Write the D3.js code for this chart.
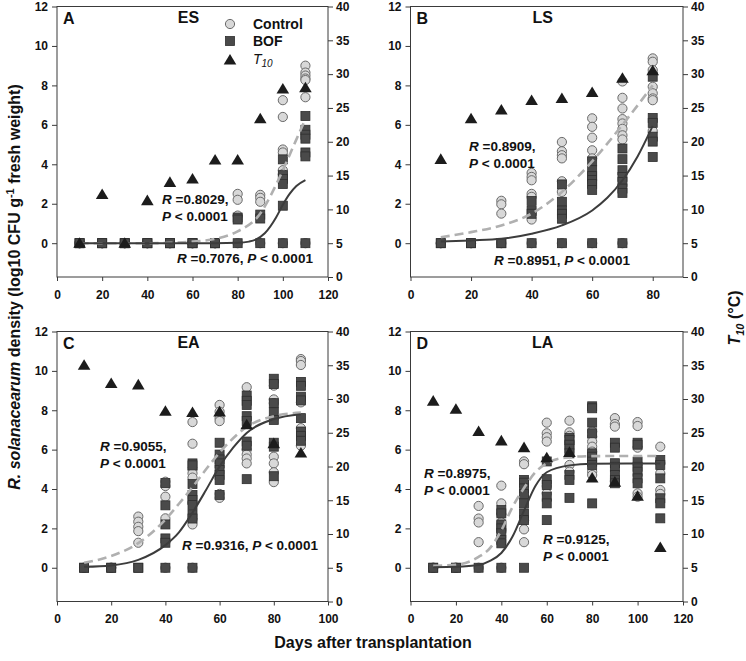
<!DOCTYPE html>
<html><head><meta charset="utf-8">
<script src="https://cdn.jsdelivr.net/npm/d3@7"></script>
<style>
body{margin:0;background:#fff}
svg{display:block}
text{font-family:"Liberation Sans",Arial,Helvetica,sans-serif}
</style>
</head><body>
<svg id="chart" width="746" height="661"></svg>
<script>
// ---------------- DATA ----------------
const panelKeys = ["A","B","C","D"];
const panelTitles = ["ES","LS","EA","LA"];
const legendLabels = ["Control","BOF","T10"];
const leftTicks = [0,2,4,6,8,10,12];
const rightTicks = [0,5,10,15,20,25,30,35,40];

// Panel A (ES)
const daysES = [10,20,30,40,50,60,70,80,90,100,110];
const controlES = [[0,0,0],[0,0,0],[0,0,0],[0,0,0],[0,0,0],[0,0,0],[0,0,0],
  [2.5,2.2,1.4,0],[2.45,2.3,2.1,0],[7.25,6.4,4.75,4.6,3.7,3.5,0],[9.0,8.65,8.5,8.35,8.27,7.4,0]];
const bofES = [[0,0,0],[0,0,0],[0,0,0],[0,0,0],[0,0,0],[0,0,0],[0,0,0],
  [1.3,1.2,0],[1.45,1.25,0],[4.25,3.45,3.25,3.0,1.9,0],[6.45,5.75,5.5,5.3,4.6,4.4,0]];
const t10ES = [5.0,12.2,5.0,11.3,14.0,14.5,17.3,17.3,23.4,27.8,28.0];
const fitControlDaysES = [10,20,30,40,50,60,70,80,90,95,100,105,110];
const fitControlES = [0,0,0,0,0.02,0.08,0.22,0.6,1.5,2.5,3.7,5.0,6.3];
const fitBofDaysES = [10,20,30,40,50,60,70,80,85,88,92,97,100,103,106,110];
const fitBofES = [0,0,0,0,0,0,0,0.02,0.08,0.18,0.5,1.3,1.95,2.5,2.9,3.2];
const xTicksES = [0,20,40,60,80,100,120];

// Panel B (LS)
const daysLS = [10,20,30,40,50,60,70,80];
const controlLS = [[0,0],[0,0],[2.15,1.97,1.5,0],[3.56,3.36,3.19,2.5,2.35,1.2,0],[5.13,4.66,4.46,4.3,3.14,2.6,0],
  [6.33,5.9,5.35,4.71,4.3,0],[8.2,7.37,6.83,6.29,6.07,5.8,5.47,5.26,0],[9.37,9.2,8.78,7.93,7.6,7.34,7.25,5.69]];
const bofLS = [[0,0],[0,0],[0,0],[2.14,1.63,1.49,0],[2.98,2.1,1.66,1.49,1.24,0],[4.15,3.7,3.4,3.2,3.0,2.7,0],
  [4.8,4.26,3.7,3.36,3.1,2.77,2.55,0],[8.44,6.35,6.1,5.4,5.15,4.37]];
const t10LS = [17.4,23.4,24.7,26.1,26.4,27.3,29.4,30.5];
const fitControlDaysLS = [10,20,30,40,50,60,70,80];
const fitControlLS = [0.3,0.56,0.9,1.5,2.6,4.15,6.0,8.0];
const fitBofDaysLS = [10,20,30,40,50,60,65,70,75,80];
const fitBofLS = [0.08,0.14,0.22,0.48,0.9,1.66,2.3,3.19,4.4,5.95];
const xTicksLS = [0,20,40,60,80];

// Panel C (EA)
const daysEA = [10,20,30,40,50,60,70,80,90];
const controlEA = [[0,0],[0,0],[2.6,2.34,2.08,1.86,1.27],[4.37,4.15,3.61,2.51,0],[7.4,6.3,5.0,4.8,4.58,3.3,2.44,2.2,0],
  [8.27,7.93,7.6,7.45,3.75,3.55],[9.17,6.0,5.75,5.55,5.3],[9.25,8.55,8.36,7.6,5.64,5.3,4.85,4.35],[10.6,10.5,10.3,8.4,7.09,6.2]];
const bofEA = [[0,0],[0,0],[0,0],[4.3,3.17,2.2,1.49,1.27,0],[5.3,5.2,4.25,3.7,3.44,3.19,2.7,2.5,0],
  [6.35,5.75,5.5,5.3,4.97,4.71,4.46,3.7],[8.75,8.48,8.27,7.7,7.45,6.41,6.2,4.5],[9.6,9.33,8.36,7.9,7.51,6.35,6.15,4.65],
  [9.44,9.24,8.69,8.5,7.6,6.92,6.7,6.45]];
const t10EA = [35.0,32.3,32.1,28.2,28.0,28.1,26.2,23.4,22.0];
const fitControlDaysEA = [10,20,30,40,45,50,55,60,70,80,90];
const fitControlEA = [0.25,0.6,1.25,2.45,3.25,4.1,5.0,5.85,7.15,7.7,7.88];
const fitBofDaysEA = [10,20,30,40,45,50,55,60,65,70,80,90];
const fitBofEA = [0.05,0.12,0.4,1.15,1.8,2.8,3.95,5.15,6.1,6.85,7.55,7.8];
const xTicksEA = [0,20,40,60,80,100];

// Panel D (LA)
const daysLA = [10,20,30,40,50,60,70,80,90,100,110];
const controlLA = [[0,0],[0,0],[3.14,2.5,2.3,1.3,0],[4.17,3.27,2.7,2.3,1.9,0],[5.4,5.26,3.6,2.4,1.95,1.3],
  [7.37,6.83,6.63,6.41,4.15,3.78],[7.47,6.88,6.7,6.32,5.22,4.88],[6.92,6.66,6.41,6.15,5.9,4.88,4.71],
  [7.6,7.3,7.17,4.4],[7.4,7.2,6.1,3.78,3.61],[6.15,5.31,4.8,3.95,3.75]];
const bofLA = [[0,0],[0,0],[0],[2.93,2.76,2.2,2.0,1.75,1.41,1.24,0],[4.46,4.32,4.03,3.75,3.27,2.76,2.42,0],
  [5.4,4.5,4.2,3.61,3.27,2.42],[6.6,6.49,6.25,6.05,5.81,4.71,4.46,3.55],[8.2,8.1,7.37,6.83,5.81,5.64,5.39,5.22,3.27],
  [6.35,6.1,5.31,5.13,4.71,4.46,4.29],[6.35,6.25,5.39,5.13,4.88,4.54,4.29],[5.47,5.22,4.54,3.53,3.27,2.51]];
const t10LA = [29.7,28.5,25.2,23.8,22.8,21.3,22.1,18.3,17.7,15.6,8.0];
const fitControlDaysLA = [10,20,30,35,40,45,50,55,60,70,80,110];
const fitControlLA = [0.1,0.15,0.55,1.0,1.9,3.1,4.05,4.85,5.3,5.62,5.67,5.68];
const fitBofDaysLA = [10,20,30,35,40,45,50,55,60,70,80,110];
const fitBofLA = [0.03,0.05,0.14,0.35,0.75,1.6,2.9,4.15,4.85,5.2,5.28,5.3];
const xTicksLA = [0,20,40,60,80,100,120];

// Statistics text
const statsControl = ["0.8029","0.8909","0.9055","0.8975"];
const statsBof = ["0.7076","0.8951","0.9316","0.9125"];

// ---------------- LAYOUT ----------------
const svg = d3.select("#chart");
const LMIN = -12/7;

const panels = [
  {days:daysES, control:controlES, bof:bofES, t10:t10ES,
   fc:[fitControlDaysES,fitControlES], fb:[fitBofDaysES,fitBofES], xticks:xTicksES, xmax:120,
   x0:57, x1:328, yt:6.5, yb:277,
   ann:[{x:162,y:204,two:true,which:"c"},{x:177,y:263,two:false,which:"b"}]},
  {days:daysLS, control:controlLS, bof:bofLS, t10:t10LS,
   fc:[fitControlDaysLS,fitControlLS], fb:[fitBofDaysLS,fitBofLS], xticks:xTicksLS, xmax:90,
   x0:410.5, x1:683, yt:6.5, yb:277,
   ann:[{x:469,y:151,two:true,which:"c"},{x:494,y:265,two:false,which:"b"}]},
  {days:daysEA, control:controlEA, bof:bofEA, t10:t10EA,
   fc:[fitControlDaysEA,fitControlEA], fb:[fitBofDaysEA,fitBofEA], xticks:xTicksEA, xmax:100,
   x0:57, x1:328, yt:331.5, yb:601.5,
   ann:[{x:100,y:451,two:true,which:"c"},{x:182,y:550,two:false,which:"b"}]},
  {days:daysLA, control:controlLA, bof:bofLA, t10:t10LA,
   fc:[fitControlDaysLA,fitControlLA], fb:[fitBofDaysLA,fitBofLA], xticks:xTicksLA, xmax:120,
   x0:410.5, x1:683, yt:331.5, yb:601.5,
   ann:[{x:424,y:478,two:true,which:"c"},{x:543,y:544,two:true,which:"b"}]}
];

const AX = "#3a3a3a";
const TXT = "#111";

function triPath(){ return "M0,-6 L6.3,4.6 L-6.3,4.6 Z"; }

panels.forEach((p,i)=>{
  const g = svg.append("g");
  const x = d3.scaleLinear().domain([0,p.xmax]).range([p.x0,p.x1]);
  const yL = d3.scaleLinear().domain([LMIN,12]).range([p.yb,p.yt]);
  const yR = d3.scaleLinear().domain([0,40]).range([p.yb,p.yt]);

  // frame
  g.append("rect").attr("x",p.x0).attr("y",p.yt).attr("width",p.x1-p.x0).attr("height",p.yb-p.yt)
    .attr("fill","none").attr("stroke",AX).attr("stroke-width",1);

  const styleAxis = sel=>{
    sel.select(".domain").remove();
    sel.selectAll("line").attr("stroke",AX);
    sel.selectAll("text").attr("fill",TXT).style("font-size","12px").style("font-weight","bold");
  };
  g.append("g").attr("transform",`translate(${p.x0},0)`)
    .call(d3.axisLeft(yL).tickValues(leftTicks).tickSize(5).tickPadding(4)).call(styleAxis);
  g.append("g").attr("transform",`translate(${p.x1},0)`)
    .call(d3.axisRight(yR).tickValues(rightTicks).tickSize(5).tickPadding(3)).call(styleAxis);
  g.append("g").attr("transform",`translate(0,${p.yb})`)
    .call(d3.axisBottom(x).tickValues(p.xticks).tickSize(4).tickPadding(9)).call(styleAxis);

  // points
  const flat = (arr)=>{ const out=[]; arr.forEach((vals,j)=>vals.forEach(v=>out.push([p.days[j],v]))); return out; };
  g.append("g").selectAll("circle").data(flat(p.control)).join("circle")
    .attr("cx",d=>x(d[0])).attr("cy",d=>yL(d[1])).attr("r",4.6)
    .attr("fill","#d8d8d8").attr("stroke","#6a6a6a").attr("stroke-width",1);
  g.append("g").selectAll("rect").data(flat(p.bof)).join("rect")
    .attr("x",d=>x(d[0])-4.5).attr("y",d=>yL(d[1])-4.5).attr("width",9).attr("height",9)
    .attr("fill","#4a4a4a").attr("stroke","#2e2e2e").attr("stroke-width",0.8);

  // fits
  const line = d3.line().x(d=>x(d[0])).y(d=>yL(d[1])).curve(d3.curveMonotoneX);
  g.append("path").datum(p.fc[0].map((d,j)=>[d,p.fc[1][j]])).attr("d",line)
    .attr("fill","none").attr("stroke","#b0b0b0").attr("stroke-width",2.6).attr("stroke-dasharray","9,5");
  g.append("path").datum(p.fb[0].map((d,j)=>[d,p.fb[1][j]])).attr("d",line)
    .attr("fill","none").attr("stroke","#3c3c3c").attr("stroke-width",2);

  // T10 triangles
  g.append("g").selectAll("path").data(p.t10.map((v,j)=>[p.days[j],v])).join("path")
    .attr("d",triPath()).attr("transform",d=>`translate(${x(d[0])},${yR(d[1])})`)
    .attr("fill","#1c1c1c");

  // panel letter and title
  g.append("text").attr("x",p.x0+6).attr("y",p.yt+17).text(panelKeys[i])
    .style("font-size","16px").style("font-weight","bold").attr("fill",TXT);
  g.append("text").attr("x",(p.x0+p.x1)/2-4).attr("y",p.yt+16).attr("text-anchor","middle").text(panelTitles[i])
    .style("font-size","16px").style("font-weight","bold").attr("fill",TXT);

  // annotations
  p.ann.forEach(a=>{
    const val = a.which==="c"? statsControl[i] : statsBof[i];
    const t = g.append("text").attr("x",a.x).attr("y",a.y).style("font-size","13.5px").style("font-weight","bold").attr("fill",TXT);
    t.append("tspan").style("font-style","italic").text("R");
    t.append("tspan").text(" =" + val + ",");
    if(a.two){
      const t2 = g.append("text").attr("x",a.x).attr("y",a.y+17).style("font-size","13.5px").style("font-weight","bold").attr("fill",TXT);
      t2.append("tspan").style("font-style","italic").text("P");
      t2.append("tspan").text(" < 0.0001");
    } else {
      t.append("tspan").text(" ");
      t.append("tspan").style("font-style","italic").text("P");
      t.append("tspan").text(" < 0.0001");
    }
  });

  // legend in panel A
  if(i===0){
    const lx = 230;
    const lg = g.append("g");
    lg.append("circle").attr("cx",lx).attr("cy",24).attr("r",4.6).attr("fill","#d8d8d8").attr("stroke","#6a6a6a");
    lg.append("rect").attr("x",lx-4.5).attr("y",36.5).attr("width",9).attr("height",9).attr("fill","#4a4a4a").attr("stroke","#2e2e2e").attr("stroke-width",0.8);
    lg.append("path").attr("d",triPath()).attr("transform",`translate(${lx},60)`).attr("fill","#1c1c1c");
    lg.append("text").attr("x",253).attr("y",29).text(legendLabels[0]).style("font-size","14px").style("font-weight","bold").attr("fill",TXT);
    lg.append("text").attr("x",253).attr("y",46).text(legendLabels[1]).style("font-size","14px").style("font-weight","bold").attr("fill",TXT);
    const tt = lg.append("text").attr("x",253).attr("y",64).style("font-size","14px").style("font-style","italic").attr("fill",TXT);
    tt.append("tspan").text(legendLabels[2].slice(0,1));
    tt.append("tspan").attr("dy",3).style("font-size","10px").text(legendLabels[2].slice(1));
  }
});

// axis titles
svg.append("text").attr("x",373).attr("y",648).attr("text-anchor","middle")
  .style("font-size","16px").style("font-weight","bold").attr("fill",TXT).text("Days after transplantation");

const yl = svg.append("text").attr("transform","translate(20,287) rotate(-90)").attr("text-anchor","middle")
  .style("font-size","16px").style("font-weight","bold").attr("fill",TXT);
yl.append("tspan").style("font-style","italic").text("R. solanacearum");
yl.append("tspan").text(" density (log10 CFU g");
yl.append("tspan").attr("dy",-6).style("font-size","11px").text("-1");
yl.append("tspan").attr("dy",6).text(" fresh weight)");

const yr = svg.append("text").attr("transform","translate(740,318) rotate(-90)").attr("text-anchor","middle")
  .style("font-size","16px").style("font-weight","bold").attr("fill",TXT);
yr.append("tspan").style("font-style","italic").text("T");
yr.append("tspan").attr("dy",4).style("font-style","italic").style("font-size","11px").text("10");
yr.append("tspan").attr("dy",-4).text(" (°C)");
</script>
</body></html>
